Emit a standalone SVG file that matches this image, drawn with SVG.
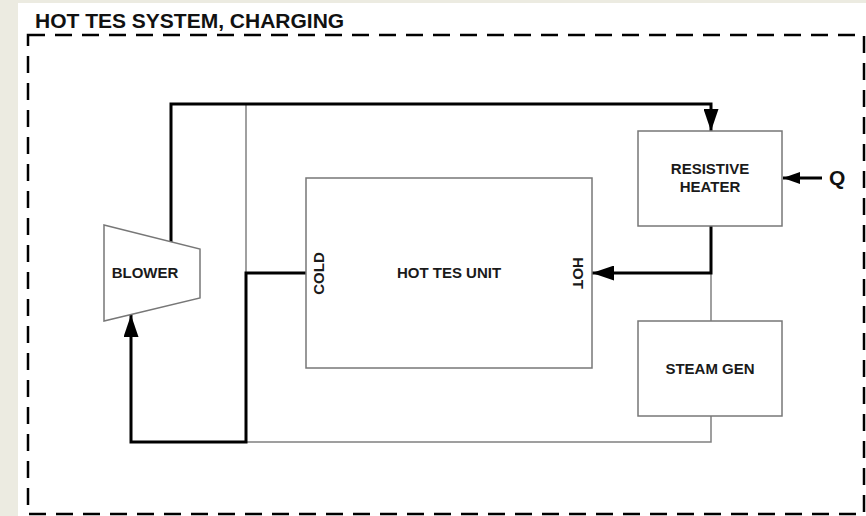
<svg xmlns="http://www.w3.org/2000/svg" width="866" height="516" viewBox="0 0 866 516">
<defs>
<style>
.lbl{font-family:"Liberation Sans",Arial,sans-serif;font-weight:bold;font-size:15px;fill:#1a1a1a;text-anchor:middle}
.box{fill:#fff;stroke:#777;stroke-width:1.5}
.thin{fill:none;stroke:#808080;stroke-width:1.5}
.thick{fill:none;stroke:#000;stroke-width:3}
</style>
<marker id="arr" markerUnits="userSpaceOnUse" markerWidth="22" markerHeight="15" refX="22" refY="7.5" orient="auto" viewBox="0 0 22 15">
<path d="M0,0 L22,7.5 L0,15 z" fill="#000"/>
</marker>
<marker id="arrQ" markerUnits="userSpaceOnUse" markerWidth="17" markerHeight="12" refX="17" refY="6" orient="auto" viewBox="0 0 17 12">
<path d="M0,0 L17,6 L0,12 z" fill="#000"/>
</marker>
</defs>
<rect x="0" y="0" width="866" height="516" fill="#ecebe1"/>
<rect x="18" y="3" width="848" height="513" fill="#fff"/>
<g id="boundary">
<rect x="28" y="35" width="836" height="479" fill="none" stroke="#000" stroke-width="2.5" stroke-dasharray="17 10"/>
<text x="35" y="28" style="font-family:'Liberation Sans',Arial,sans-serif;font-weight:bold;font-size:21px;fill:#111">HOT TES SYSTEM, CHARGING</text>
</g>
<g id="connectors">
<path class="thin" d="M246,104 V273"/>
<path class="thin" d="M246,442 H711 V416"/>
<path class="thin" d="M711,273 V321"/>
<path class="thick" d="M171,242 V104 H711 V131" marker-end="url(#arr)"/>
<path class="thick" d="M711,226 V273 H592" marker-end="url(#arr)"/>
<path class="thick" d="M306,273 H246 V442 H131 V315" marker-end="url(#arr)"/>
<path class="thick" d="M822,178 H783" marker-end="url(#arrQ)"/>
</g>
<g id="blower">
<path class="box" d="M104,225 L200,249 L200,298 L104,321 z"/>
<text class="lbl" x="145" y="278">BLOWER</text>
</g>
<g id="tes">
<rect class="box" x="306" y="178" width="286" height="190"/>
<text class="lbl" x="449" y="278">HOT TES UNIT</text>
<text class="lbl" transform="translate(324,273.5) rotate(-90)">COLD</text>
<text class="lbl" transform="translate(573,273) rotate(90)">HOT</text>
</g>
<g id="heater">
<rect class="box" x="638" y="131" width="144" height="95"/>
<text class="lbl" x="710" y="173.5">RESISTIVE</text>
<text class="lbl" x="710" y="192">HEATER</text>
</g>
<g id="steamgen">
<rect class="box" x="638" y="321" width="144" height="95"/>
<text class="lbl" x="710" y="374">STEAM GEN</text>
</g>
<g id="q">
<text x="829" y="185" style="font-family:'Liberation Sans',Arial,sans-serif;font-weight:bold;font-size:21px;fill:#111">Q</text>
</g>
</svg>
